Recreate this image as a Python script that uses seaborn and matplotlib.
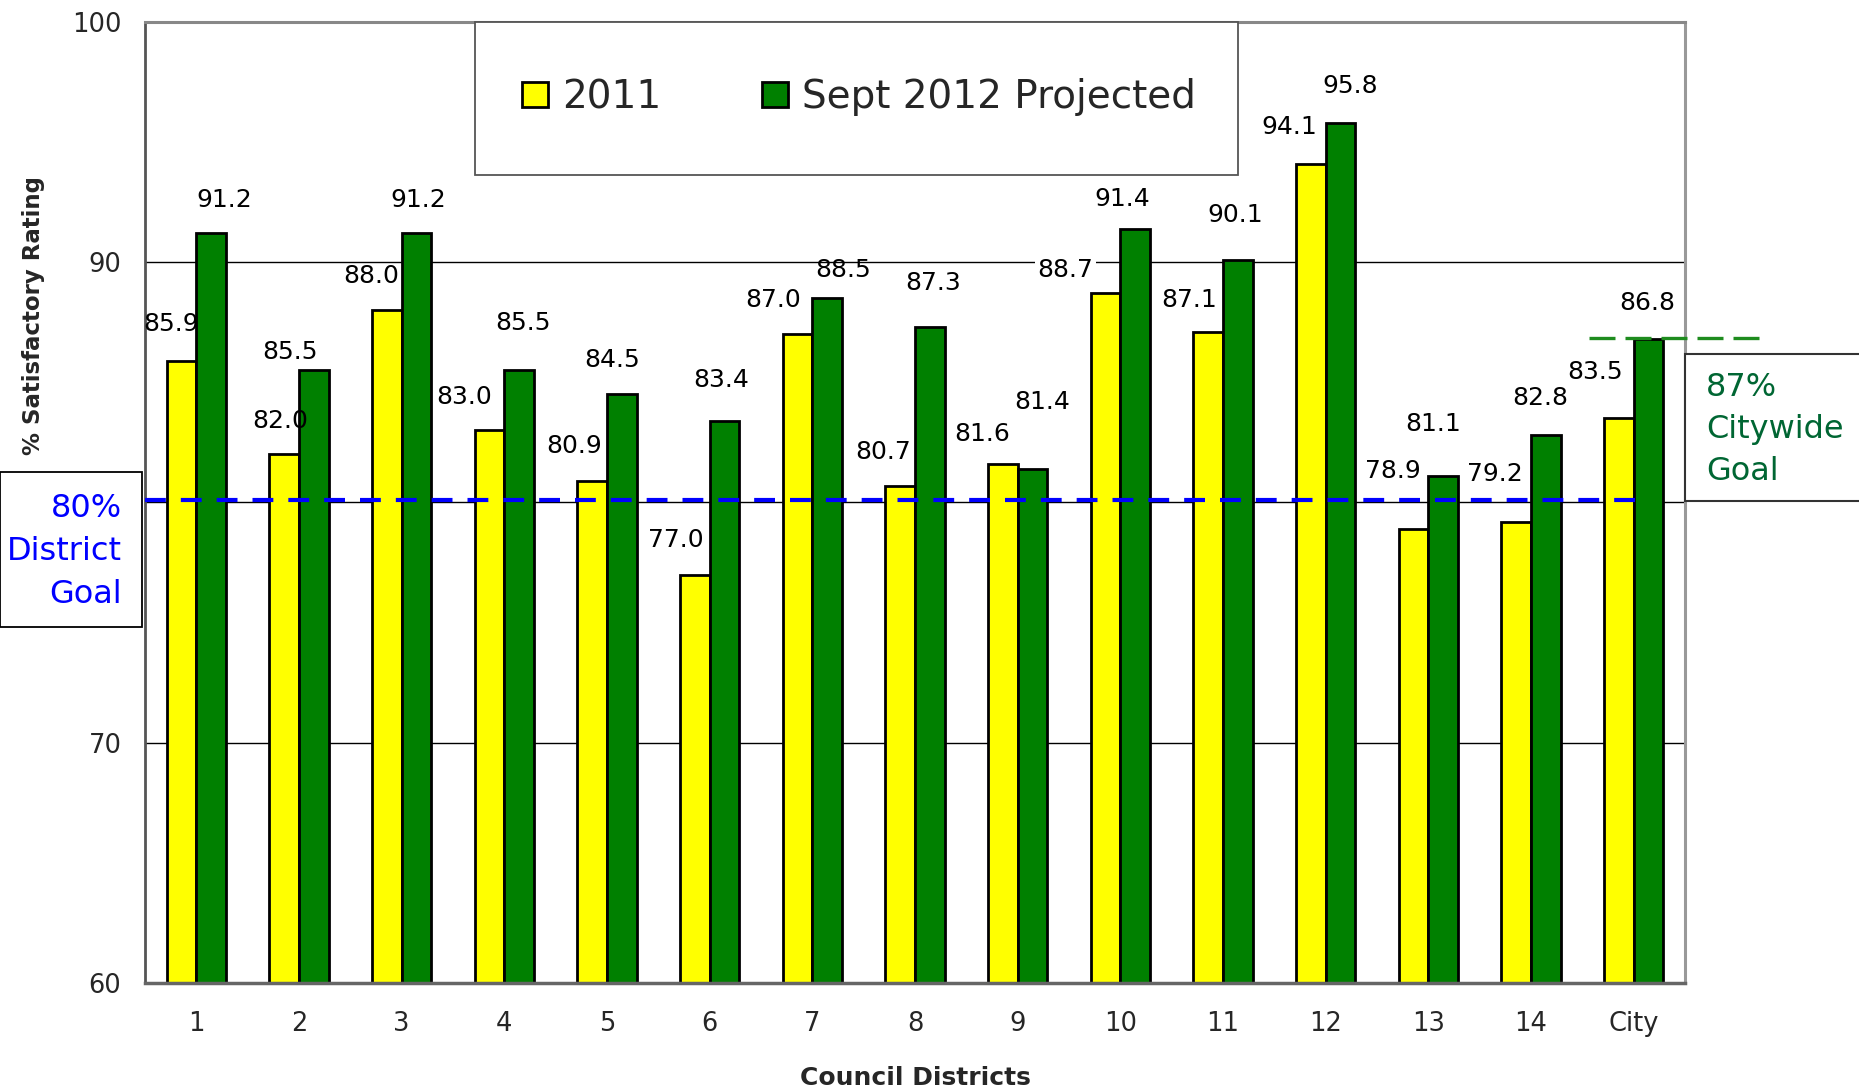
import numpy as np
import pandas as pd
import matplotlib
matplotlib.use("Agg")
import matplotlib.pyplot as plt
import seaborn as sns
from matplotlib.patches import Rectangle, Patch

# ---------------- data ----------------
districts = ["1", "2", "3", "4", "5", "6", "7", "8", "9", "10", "11", "12", "13", "14", "City"]
series_names = ["2011", "Sept 2012 Projected"]
values_2011 = [85.9, 82.0, 88.0, 83.0, 80.9, 77.0, 87.0, 80.7, 81.6, 88.7, 87.1, 94.1, 78.9, 79.2, 83.5]
values_2012 = [91.2, 85.5, 91.2, 85.5, 84.5, 83.4, 88.5, 87.3, 81.4, 91.4, 90.1, 95.8, 81.1, 82.8, 86.8]
yticks = [60, 70, 80, 90, 100]
district_goal = 80
city_goal = 87

# label nudges (pixels, dx right, dy up-negative) relative to bar top
off_2011 = [(-11, -37), (-4, -33), (-16, -34), (-25, -33), (-18, -35), (-19, -35), (-24, -34),
            (-17, -34), (-21, -30), (-40, -23), (-19, -32), (-22, -37), (-21, -58), (-21, -48), (-24, -46)]
off_2012 = [(13, -33), (-24, -18), (2, -33), (4, -47), (-10, -34), (-3, -41), (16, -28),
            (3, -44), (10, -67), (-13, -30), (-3, -45), (10, -37), (-10, -52), (-6, -37), (-1, -36)]

YELLOW = "#FFFF00"
GREEN = "#008000"

sns.set_style("white")
plt.rcParams["font.family"] = ["DejaVu Sans"]

df = pd.DataFrame({
    "district": districts * 2,
    "value": values_2011 + values_2012,
    "series": [series_names[0]] * len(districts) + [series_names[1]] * len(districts),
})

fig, ax = plt.subplots(figsize=(18.59, 10.88), dpi=100)
fig.subplots_adjust(left=0.078, right=0.9064, bottom=0.0965, top=0.9798)

sns.barplot(data=df, x="district", y="value", hue="series", order=districts,
            hue_order=series_names, palette=[YELLOW, GREEN], saturation=1,
            edgecolor="black", linewidth=2, width=0.575, gap=0, errorbar=None,
            ax=ax, zorder=2)
if ax.get_legend() is not None:
    ax.get_legend().remove()

ax.set_ylim(60, 100)
ax.set_xlim(-0.5, len(districts) - 0.5)
ax.set_yticks(yticks)
# the 80 label sits under the "District Goal" box in the reference
ax.set_yticklabels(["" if t == district_goal else str(t) for t in yticks])
ax.tick_params(axis="y", length=8, width=1.2, color="#555555", pad=9, labelsize=18.5)
ax.tick_params(axis="x", which="major", length=0, pad=20, labelsize=18.5)
ax.set_xticks(np.arange(-0.5, len(districts), 1), minor=True)
ax.tick_params(axis="x", which="minor", length=8, width=1.2, color="#555555")

ax.grid(axis="y", color="black", linewidth=1.0)
ax.set_axisbelow(True)

ax.spines["left"].set(color="#555555", linewidth=2)
ax.spines["bottom"].set(color="#666666", linewidth=2.5)
ax.spines["top"].set(color="#888888", linewidth=2.2)
ax.spines["right"].set(color="#999999", linewidth=2.2)

ax.set_xlabel("Council Districts", fontsize=18, fontweight="bold")
ax.xaxis.set_label_coords(0.5, -0.086)
ax.set_ylabel("% Satisfactory Rating", fontsize=16.5, fontweight="bold", va="center")
ax.yaxis.set_label_coords(-0.0727, 0.694)

# value labels
for cont, vals, offs in zip(ax.containers, [values_2011, values_2012], [off_2011, off_2012]):
    for bar, v, (dx, dy) in zip(cont, vals, offs):
        kw = {}
        if abs(dy) < 25:
            kw["bbox"] = dict(boxstyle="square,pad=0.1", fc="white", ec="none")
        ax.annotate(f"{v:.1f}", xy=(bar.get_x() + bar.get_width() / 2, bar.get_height()),
                    xytext=(dx, -dy), textcoords="offset pixels", ha="center", va="center",
                    fontsize=18, color="black", zorder=4, **kw)

# goal lines
ax.axhline(district_goal + 0.12, xmin=0, xmax=0.9675, color="#0000FF", lw=3,
           dashes=(5, 3.6), zorder=5)
ax.axhline(city_goal - 0.15, xmin=0.9377, xmax=1.05, color="#1E8C1E", lw=2.4,
           dashes=(7.8, 3.0), zorder=5, clip_on=False)

# legend box + legend
fig.add_artist(Rectangle((0.2555, 0.8392), 0.4104, 0.1406, transform=fig.transFigure,
                         fc="white", ec="#555555", lw=1.3, zorder=4))
handles = [Patch(facecolor=YELLOW, edgecolor="black", linewidth=2),
           Patch(facecolor=GREEN, edgecolor="black", linewidth=2)]
fig.legend(handles, series_names, loc="center", bbox_to_anchor=(0.4621, 0.9108),
           bbox_transform=fig.transFigure, ncol=2, frameon=False, fontsize=28,
           handlelength=0.67, handleheight=0.62, handletextpad=0.36, columnspacing=2.6)

# goal boxes
fig.add_artist(Rectangle((0.0, 0.4237), 0.0764, 0.1425, transform=fig.transFigure,
                         fc="white", ec="black", lw=1.3, zorder=5))
fig.text(0.0656, 0.4935, f"{district_goal}%\nDistrict\nGoal", ha="right", va="center",
         ma="right", color="#0000FF", fontsize=23, linespacing=1.5, zorder=6)
fig.add_artist(Rectangle((0.9064, 0.5395), 0.12, 0.1351, transform=fig.transFigure,
                         fc="white", ec="#333333", lw=1.5, zorder=5))
fig.text(0.9177, 0.6050, f"{city_goal}%\nCitywide\nGoal", ha="left", va="center",
         ma="left", color="#006633", fontsize=23, linespacing=1.45, zorder=6)

fig.savefig("out.png", dpi=100)
